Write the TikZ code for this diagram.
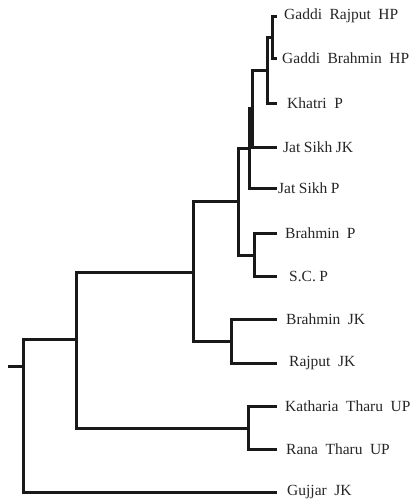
\documentclass[tikz,border=0pt]{standalone}
\usepackage{fontspec}
\setmainfont{Liberation Serif}
\usetikzlibrary{positioning}
\tikzset{
    branch/.style={line width=3pt, draw=black!90},
    taxon/.style={anchor=west, inner sep=0pt, text=black!85,
      font=\fontsize{15.5}{18}\selectfont,
      execute at begin node={\spaceskip=7.5pt\relax}},
    tight/.style={anchor=west, inner sep=0pt, text=black!85,
      font=\fontsize{15.5}{18}\selectfont,
      execute at begin node={\spaceskip=3.5pt\relax}},
  }

\begin{document}
\begin{tikzpicture}[x=1pt, y=-1pt]
				  \useasboundingbox (0,0) rectangle (412,501);
				  %tips and names
				  \foreach \nm/\yy/\gap/\txt in {gr/16/7pt/Gaddi Rajput HP, gb/58/5pt/Gaddi Brahmin HP, kh/103/10pt/Khatri P, bp/233/8pt/Brahmin P, bjk/319/9pt/Brahmin JK, rjk/363/12pt/Rajput JK, kt/406/8pt/Katharia Tharu UP, rt/449/9pt/Rana Tharu UP, gu/492/10pt/Gujjar JK}{
				    \coordinate (\nm) at (277,\yy);
				    \node [taxon, right=\gap of \nm] (l\nm) {\txt};
				  }
				  \coordinate (jsjk) at (277,147);
				  \coordinate (jsp) at (277,188);
				  \coordinate (sc) at (277,276);
				  \node [tight, right=6pt of jsjk] (ljsjk) {Jat Sikh JK};
				  \node [tight, right=1pt of jsp] (ljsp) {Jat Sikh P};
				  \node [tight, right=12pt of sc] (lsc) {S.C. P};
				  %internal nodes
				  \coordinate (a) at (272,37);
				  \coordinate (b) at (267,70);
				  \coordinate (c) at (252,108);
				  \coordinate (d) at (249,148);
				  \coordinate (e) at (254,255);
				  \coordinate (f) at (238,201);
				  \coordinate (g) at (231,341);
				  \coordinate (h) at (193,272);
				  \coordinate (i) at (248,428);
				  \coordinate (j) at (76,339);
				  \coordinate (r) at (23,366);
				  \coordinate (stub) at (8,366);

				  \draw [branch] (a) |- (gr) (a) |- (gb);
				  \draw [branch] (b) |- (a) (b) |- (kh);
				  \draw [branch] (c) |- (b) (c) |- (jsjk);
				  \draw [branch] (d) |- (c) (d) |- (jsp);
				  \draw [branch] (e) |- (bp) (e) |- (sc);
				  \draw [branch] (f) |- (d) (f) |- (e);
				  \draw [branch] (g) |- (bjk) (g) |- (rjk);
				  \draw [branch] (h) |- (f) (h) |- (g);
				  \draw [branch] (i) |- (kt) (i) |- (rt);
				  \draw [branch] (j) |- (h) (j) |- (i);
				  \draw [branch] (r) |- (j) (r) |- (gu) (stub) -- (r);
				  \end{tikzpicture}
\end{document}
